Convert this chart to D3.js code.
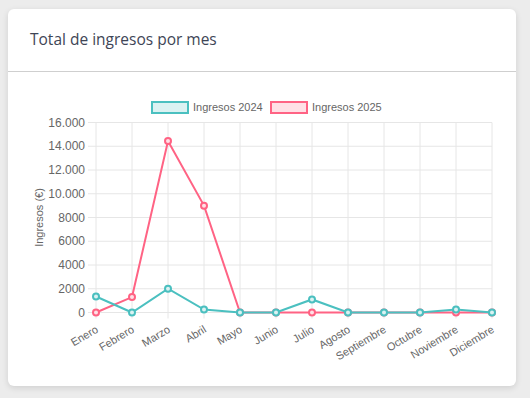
<!DOCTYPE html>
<html>
<head>
<meta charset="utf-8">
<script src="https://cdn.jsdelivr.net/npm/d3@7"></script>
<style>
  body { margin: 0; background: #ececec; font-family: "Open Sans", sans-serif; }
  #card {
    position: absolute; left: 8px; top: 9px; width: 508px; height: 377px;
    background: #fff; border-radius: 6px; box-shadow: 0 2px 6px rgba(0,0,0,0.12);
  }
  #card h3 {
    margin: 0; padding: 19px 0 0 22px; height: 43px; font-size: 15.5px; font-weight: 400;
    color: #3e4556; border-bottom: 1px solid #cfcfcf; font-family: "Open Sans", sans-serif;
  }
  svg { position: absolute; left: 0; top: 0; }
</style>
</head>
<body>
<div id="card"><h3>Total de ingresos por mes</h3></div>
<svg id="chart" width="530" height="398"></svg>
<script>
var months = ["Enero", "Febrero", "Marzo", "Abril", "Mayo", "Junio", "Julio", "Agosto",
  "Septiembre", "Octubre", "Noviembre", "Diciembre"];
var ingresos2024 = [1350, 0, 2000, 250, 0, 0, 1100, 0, 0, 0, 250, 0];
var ingresos2025 = [0, 1300, 14450, 9000, 0, 0, 0, 0, 0, 0, 0, 0];
var yTicks = [0, 2000, 4000, 6000, 8000, 10000, 12000, 14000, 16000];
var seriesNames = ["Ingresos 2024", "Ingresos 2025"];

var teal = "rgb(75,192,192)", pink = "rgb(255,99,132)";
var plotLeft = 96, plotRight = 492, plotTop = 122.5, plotBottom = 312.5;

var svg = d3.select("#chart");
var x = d3.scalePoint().domain(months).range([plotLeft, plotRight]);
var y = d3.scaleLinear().domain([0, 16000]).range([plotBottom, plotTop]);
var fmt = function(v) { return v >= 10000 ? d3.format(",")(v).replace(/,/g, ".") : String(v); };

// grid
var grid = svg.append("g");
grid.selectAll("line.h").data(yTicks).enter().append("line")
  .attr("x1", plotLeft - 8).attr("x2", plotRight)
  .attr("y1", function(d) { return y(d); }).attr("y2", function(d) { return y(d); })
  .attr("stroke", "#e6e6e6").attr("stroke-width", 1);
grid.selectAll("line.v").data(months).enter().append("line")
  .attr("x1", function(d) { return x(d); }).attr("x2", function(d) { return x(d); })
  .attr("y1", plotTop).attr("y2", plotBottom + 6)
  .attr("stroke", "#e6e6e6").attr("stroke-width", 1);

// y axis labels
svg.append("g").selectAll("text").data(yTicks).enter().append("text")
  .attr("x", 85).attr("y", function(d) { return y(d); })
  .attr("dy", "0.35em").attr("text-anchor", "end")
  .attr("font-family", "Liberation Sans, Arial, sans-serif").attr("font-size", 12).attr("fill", "#666")
  .text(fmt);

svg.append("text")
  .attr("transform", "translate(43," + ((plotTop + plotBottom) / 2) + ") rotate(-90)")
  .attr("text-anchor", "middle")
  .attr("font-family", "Liberation Sans, Arial, sans-serif").attr("font-size", 11).attr("fill", "#666")
  .text("Ingresos (€)");

// x labels
svg.append("g").selectAll("text").data(months).enter().append("text")
  .attr("transform", function(d) { return "translate(" + (x(d) + 3) + "," + (plotBottom + 19) + ") rotate(-31)"; })
  .attr("text-anchor", "end")
  .attr("font-family", "Liberation Sans, Arial, sans-serif").attr("font-size", 11).attr("fill", "#666")
  .text(function(d) { return d; });

// lines
var line = d3.line().x(function(d, i) { return x(months[i]); }).y(function(d) { return y(d); });
var series = [
  { name: seriesNames[1], values: ingresos2025, color: pink, fill: "rgba(255,99,132,0.2)" },
  { name: seriesNames[0], values: ingresos2024, color: teal, fill: "rgba(75,192,192,0.2)" }
];
series.forEach(function(s) {
  var g = svg.append("g");
  g.append("path").datum(s.values).attr("d", line)
    .attr("fill", "none").attr("stroke", s.color).attr("stroke-width", 2);
  g.selectAll("circle").data(s.values).enter().append("circle")
    .attr("cx", function(d, i) { return x(months[i]); })
    .attr("cy", function(d) { return y(d); })
    .attr("r", 3).attr("fill", "#fff").attr("stroke", s.color).attr("stroke-width", 2);
  g.selectAll("circle.f").data(s.values).enter().append("circle")
    .attr("cx", function(d, i) { return x(months[i]); })
    .attr("cy", function(d) { return y(d); })
    .attr("r", 3).attr("fill", s.fill);
});

// legend
var legend = [
  { name: seriesNames[0], color: teal, fill: "rgba(75,192,192,0.2)", x: 152 },
  { name: seriesNames[1], color: pink, fill: "rgba(255,99,132,0.2)", x: 271 }
];
legend.forEach(function(l) {
  svg.append("rect").attr("x", l.x).attr("y", 102).attr("width", 36).attr("height", 11)
    .attr("fill", l.fill).attr("stroke", l.color).attr("stroke-width", 2);
  svg.append("text").attr("x", l.x + 41).attr("y", 107.5).attr("dy", "0.35em")
    .attr("font-family", "Liberation Sans, Arial, sans-serif").attr("font-size", 11).attr("fill", "#666")
    .text(l.name);
});
</script>
</body>
</html>
